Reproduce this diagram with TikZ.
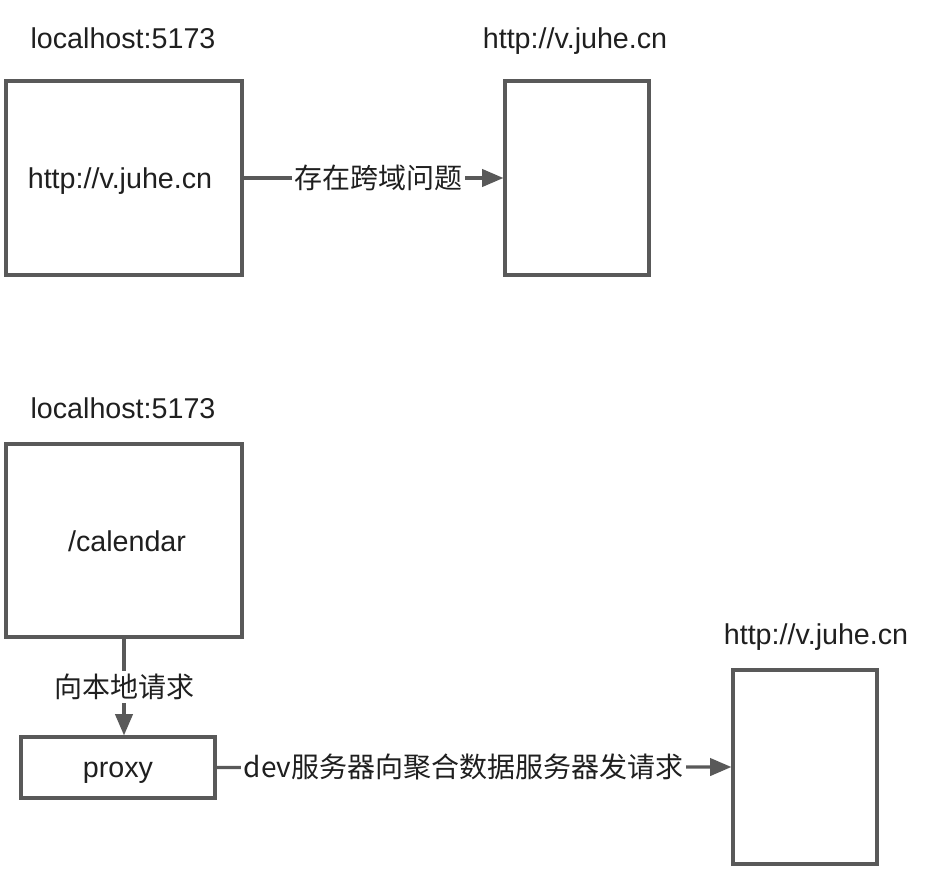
\documentclass[tikz,border=0pt]{standalone}
\usepackage{fontspec}
\setmainfont{Liberation Sans}
\newfontfamily\cjk{Noto Sans CJK SC}
\usetikzlibrary{arrows.meta}
\definecolor{linegray}{HTML}{595959}
\definecolor{txt}{HTML}{1F1F1F}
\tikzset{
  box/.style={draw=linegray, line width=2.4pt, fill=white, inner sep=0pt},
  lbl/.style={text=txt, font=\fontsize{21.5}{24}\selectfont, inner sep=1pt, text height=0.72em, text depth=0.2em},
  conn/.style={draw=linegray, line width=2.4pt, -{Triangle[length=16pt,width=13pt]}},
  clbl/.style={text=txt, fill=white, font=\fontsize{21}{24}\selectfont\cjk, inner sep=2pt}
}
\begin{document}
\begin{tikzpicture}[x=0.75pt,y=-0.75pt]
\useasboundingbox (0,0) rectangle (928,870);
% top row
\node[box, minimum width=236*0.75pt, minimum height=194*0.75pt] (a) at (124,178) {};
\node[lbl] (at) at (120,185) {http://v.juhe.cn};
\node[box, minimum width=144*0.75pt, minimum height=194*0.75pt] (b) at (577,178) {};
\node[lbl] (la) at (123,45) {localhost:5173};
\node[lbl] (lb) at (575,45) {http://v.juhe.cn};
\draw[conn] (a.east) -- node[clbl, pos=0.52] {存在跨域问题} (b.west);
% bottom
\node[lbl] (lc) at (123,415) {localhost:5173};
\node[box, minimum width=236*0.75pt, minimum height=193*0.75pt] (c) at (124,540.5) {};
\node[lbl] (ct) at (127,548) {/calendar};
\node[box, minimum width=194*0.75pt, minimum height=61*0.75pt] (d) at (118,767.5) {};
\node[lbl] (dt) at (118,774) {proxy};
\node[box, minimum width=144*0.75pt, minimum height=194*0.75pt] (e) at (805,767) {};
\node[lbl] (le) at (816,641) {http://v.juhe.cn};
\draw[conn] (c.south) -- node[clbl] {向本地请求} (c.south |- d.north);
\draw[conn] (d.east) -- node[clbl, pos=0.48] {dev服务器向聚合数据服务器发请求} (e.west);
\end{tikzpicture}
\end{document}
